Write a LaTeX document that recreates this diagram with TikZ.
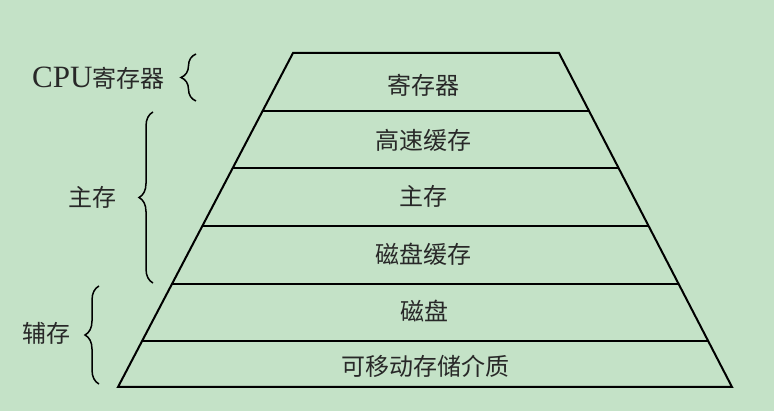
\documentclass[tikz,border=0pt]{standalone}
\usepackage{fontspec}
\setmainfont{Liberation Serif}
\newfontfamily\cjk{Noto Sans CJK SC}
\usetikzlibrary{decorations.pathreplacing,calc}
\definecolor{bg}{RGB}{196,226,199}
\definecolor{txt}{RGB}{40,40,40}
\tikzset{
  edge/.style={line width=2pt, black, line join=miter},
  layer/.style={font=\cjk\fontsize{24}{26}\selectfont, text=txt, inner sep=0pt},
  side/.style={font=\cjk\fontsize{24}{26}\selectfont, text=txt, inner sep=0pt},
  bracestyle/.style={decorate, line width=1.5pt, black}
}
\begin{document}
\begin{tikzpicture}[x=1pt,y=-1pt]
\fill[bg] (0,0) rectangle (774,411);
\useasboundingbox (0,0) rectangle (774,411);
% trapezoid corners
\coordinate (tl) at (293,53);
\coordinate (tr) at (559,53);
\coordinate (bl) at (118,387);
\coordinate (br) at (732,387);
\draw[edge] (tl) -- (tr) -- (br) -- (bl) -- cycle;
\foreach \y in {111,168,226,284,341}{
  \draw[edge] ($(tl)!{(\y-53)/334}!(bl)$) -- ($(tr)!{(\y-53)/334}!(br)$);
}
% layer labels
\node[layer] (l1) at (423,85) {寄存器};
\node[layer] (l2) at (423,140) {高速缓存};
\node[layer] (l3) at (423,196) {主存};
\node[layer] (l4) at (423,254) {磁盘缓存};
\node[layer] (l5) at (424,311) {磁盘};
\node[layer] (l6) at (425,366) {可移动存储介质};
% braces
\coordinate (c1b) at (196,101);
\coordinate (c1t) at (196,54);
\coordinate (c2b) at (153,283);
\coordinate (c2t) at (153,112);
\coordinate (c3b) at (99,384);
\coordinate (c3t) at (99,286);
\draw[bracestyle, decoration={brace, amplitude=15pt}] (c1b) -- (c1t);
\draw[bracestyle, decoration={brace, amplitude=14pt}] (c2b) -- (c2t);
\draw[bracestyle, decoration={brace, amplitude=14pt}] (c3b) -- (c3t);
% side labels
\node[side, anchor=west] (s1) at (32,78) {{\fontsize{31}{32}\selectfont\rmfamily CPU}寄存器};
\node[side] (s2) at (92,197) {主存};
\node[side] (s3) at (47,333) {辅存};
\end{tikzpicture}
\end{document}
